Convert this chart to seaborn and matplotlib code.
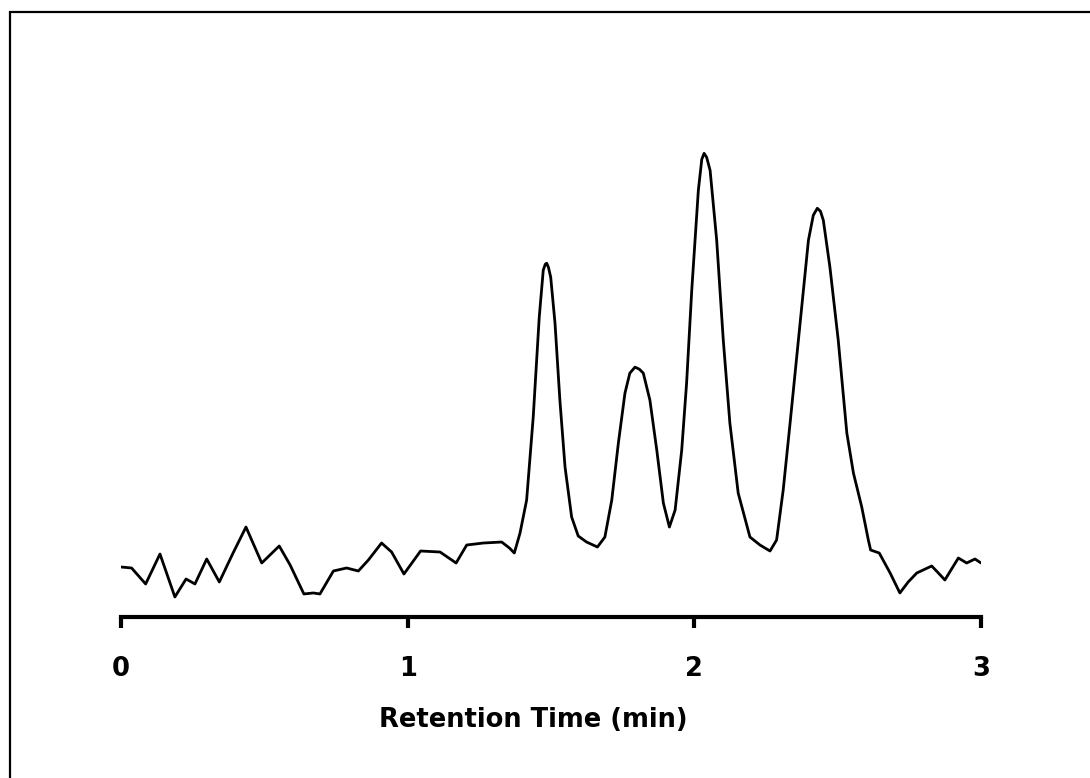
import numpy as np
import pandas as pd
import matplotlib
matplotlib.use("Agg")
import matplotlib.pyplot as plt
import seaborn as sns
from matplotlib.patches import Rectangle

# Chromatogram trace (time in min, detector response in a.u.)
time_min = [
    0.000, 0.037, 0.086, 0.136, 0.188, 0.227, 0.258, 0.299, 0.343, 0.391,
    0.436, 0.491, 0.552, 0.590, 0.638, 0.671, 0.694, 0.741, 0.787, 0.828,
    0.863, 0.909, 0.944, 0.987, 1.045, 1.113, 1.169, 1.206, 1.264, 1.328,
    1.355, 1.372, 1.392, 1.415, 1.438, 1.459, 1.473, 1.480, 1.485, 1.491,
    1.499, 1.514, 1.531, 1.549, 1.572, 1.595, 1.624, 1.662, 1.688, 1.712,
    1.735, 1.758, 1.775, 1.793, 1.808, 1.822, 1.845, 1.869, 1.892, 1.913,
    1.933, 1.956, 1.973, 1.991, 2.014, 2.026, 2.034, 2.043, 2.055, 2.078,
    2.101, 2.124, 2.153, 2.194, 2.229, 2.264, 2.287, 2.310, 2.334, 2.363,
    2.398, 2.415, 2.429, 2.440, 2.450, 2.473, 2.502, 2.532, 2.555, 2.584,
    2.607, 2.615, 2.645, 2.683, 2.717, 2.746, 2.776, 2.828, 2.848, 2.874,
    2.921, 2.950, 2.979, 3.000,
]

response = [
    5.0, 4.9, 3.3, 6.3, 2.0, 3.8, 3.3, 5.8, 3.5, 6.4,
    9.0, 5.4, 7.1, 5.2, 2.3, 2.4, 2.3, 4.6, 4.9, 4.6,
    5.7, 7.4, 6.5, 4.3, 6.6, 6.5, 5.4, 7.2, 7.4, 7.5,
    6.9, 6.4, 8.4, 11.7, 20.0, 30.0, 34.7, 35.3, 35.4, 35.0,
    34.0, 29.4, 21.7, 15.0, 10.0, 8.1, 7.5, 7.0, 8.0, 11.7,
    17.4, 22.4, 24.4, 25.0, 24.8, 24.4, 21.7, 16.7, 11.4, 9.0,
    10.7, 16.7, 23.4, 32.7, 42.7, 45.8, 46.4, 46.0, 44.7, 37.7,
    27.7, 19.4, 12.4, 8.0, 7.2, 6.6, 7.7, 12.7, 19.4, 27.7,
    37.7, 40.2, 40.9, 40.6, 39.7, 35.0, 27.7, 18.4, 14.4, 11.0,
    7.7, 6.7, 6.4, 4.4, 2.4, 3.5, 4.4, 5.1, 4.5, 3.7,
    5.9, 5.4, 5.8, 5.4,
]

x_ticks = [0, 1, 2, 3]
x_label = "Retention Time (min)"

df = pd.DataFrame({"Time": time_min, "Response": response})

sns.set_style("white")
plt.rcParams["font.family"] = ["DejaVu Sans"]

fig = plt.figure(figsize=(10.9, 7.78), dpi=100)
ax = fig.add_axes([0.111, 0.207, 0.789, 0.664])

sns.lineplot(data=df, x="Time", y="Response", color="black", linewidth=2, ax=ax)

ax.set_xlim(0, 3)
ax.set_ylim(0, 51.7)
ax.set_xticks(x_ticks)
ax.set_xticklabels([str(t) for t in x_ticks], fontsize=18.5,
                   fontweight="bold", color="black")
ax.set_yticks([])
ax.set_ylabel("")
ax.set_xlabel(x_label, fontsize=18.5, fontweight="bold", color="black",
              labelpad=18)
ax.xaxis.label.set_x(0.48)

for side in ["left", "top", "right"]:
    ax.spines[side].set_visible(False)
ax.spines["bottom"].set_linewidth(3)
ax.spines["bottom"].set_color("black")
ax.tick_params(axis="x", bottom=True, direction="out", length=8, width=3,
               color="black", pad=20)

# outer frame, only top and left edges fall inside the image
fig.patches.append(Rectangle((10 / 1090, -0.1), 1.2, 0.1 + 1 - 12 / 778,
                             transform=fig.transFigure, fill=False,
                             edgecolor="black", linewidth=1.6, clip_on=False))

fig.savefig("out.png", dpi=100, facecolor="white")
